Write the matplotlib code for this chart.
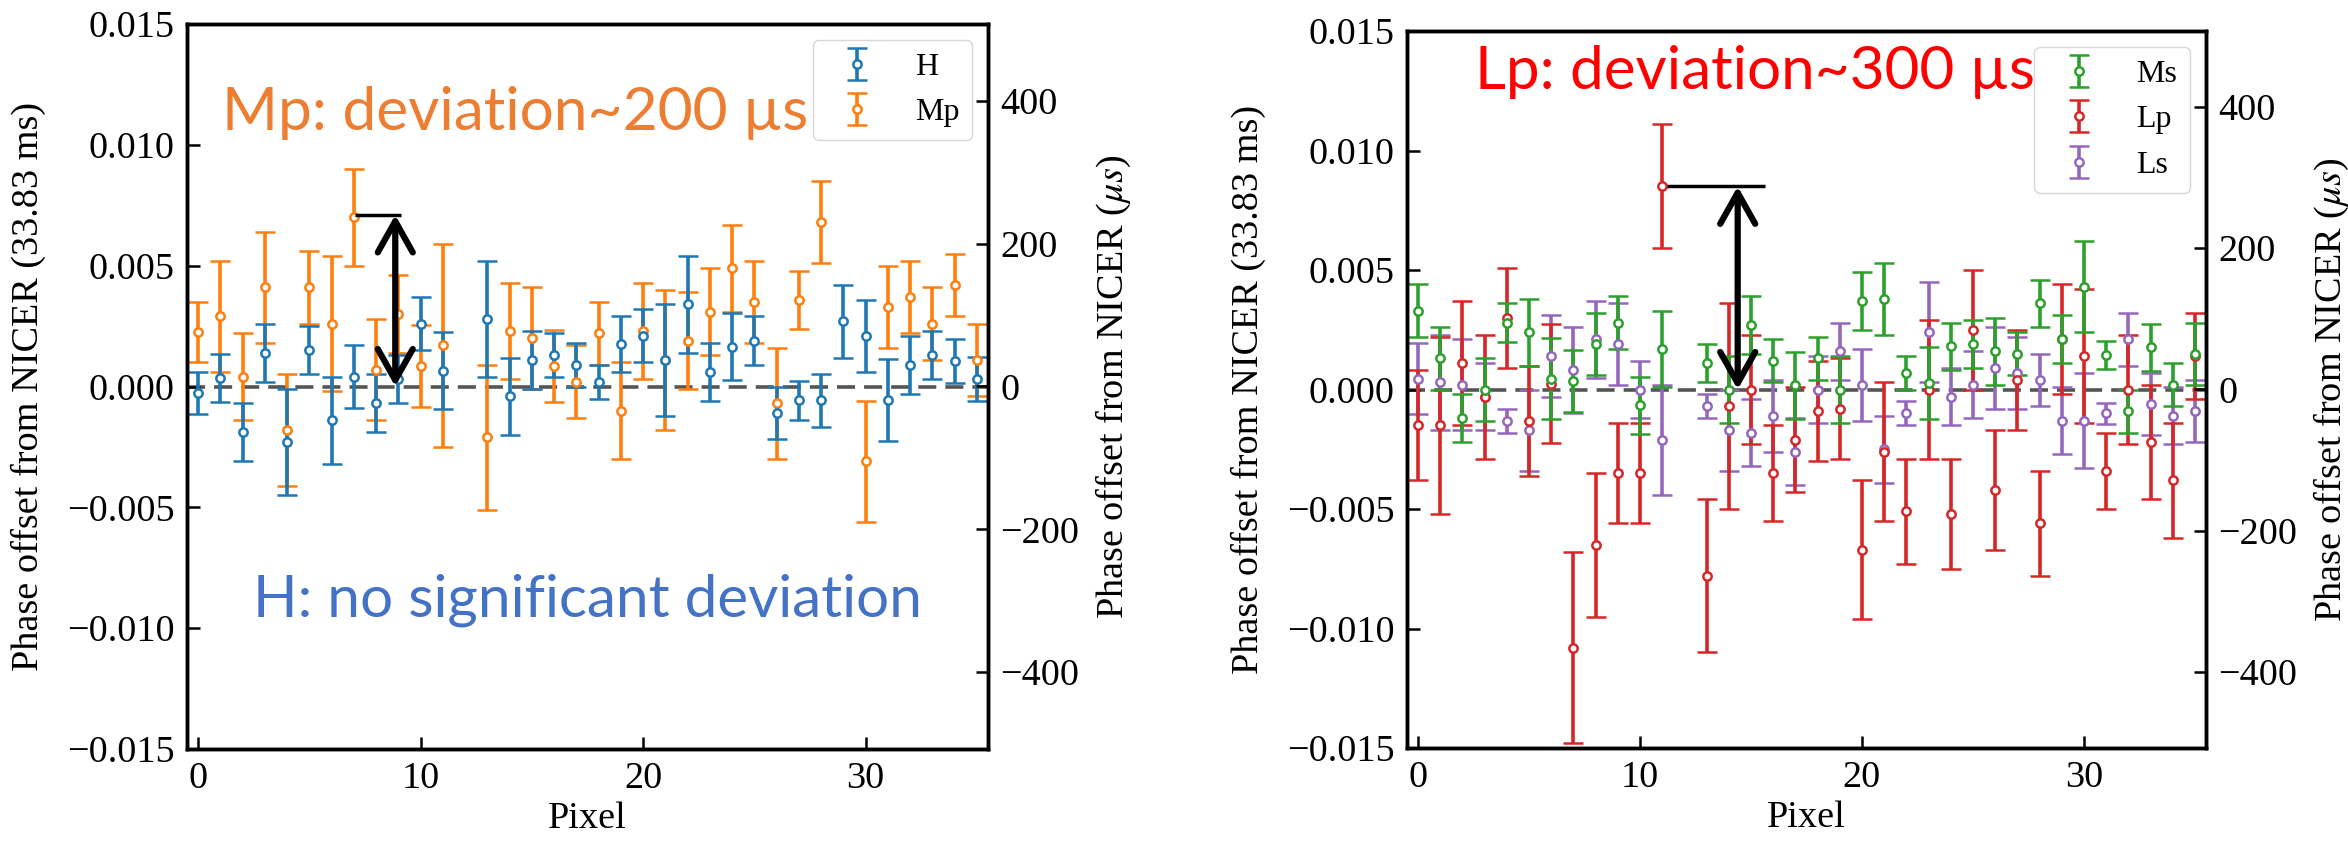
import numpy as np
import matplotlib
matplotlib.use("Agg")
import matplotlib.pyplot as plt
from matplotlib.patches import FancyArrowPatch

plt.rcParams['font.family'] = ['Liberation Serif', 'DejaVu Serif']
plt.rcParams['mathtext.fontset'] = 'stix'

nan = np.nan
pixels = np.arange(36)
period_us = 33830.0

# Left panel
H_val = [-0.00027, 0.00036, -0.0019, 0.0014, -0.0023, 0.0015, -0.0014, 0.0004, -0.0007, 0.0003,
         0.0026, 0.00065, nan, 0.0028, -0.0004, 0.0011, 0.0013, 0.0009, 0.0002, 0.00175,
         0.0021, 0.0011, 0.0034, 0.0006, 0.00165, 0.0019, -0.0011, -0.00057, -0.00057, 0.0027,
         0.0021, -0.00057, 0.00087, 0.0013, 0.00106, 0.00032]
H_err = [0.00087, 0.0010, 0.0012, 0.0012, 0.0022, 0.0010, 0.0018, 0.0013, 0.0012, 0.0010,
         0.0011, 0.0016, nan, 0.0024, 0.0016, 0.0012, 0.0009, 0.0009, 0.0007, 0.00116,
         0.0011, 0.0023, 0.0020, 0.0012, 0.0014, 0.0010, 0.00106, 0.0008, 0.0011, 0.0015,
         0.0015, 0.0017, 0.0012, 0.0010, 0.0009, 0.0009]
Mp_val = [0.00225, 0.0029, 0.0004, 0.0041, -0.0018, 0.0041, 0.0026, 0.0070, 0.0007, 0.0030,
          0.00084, 0.0017, nan, -0.0021, 0.0023, 0.0020, 0.00084, 0.0002, 0.0022, -0.0010,
          0.0023, 0.0011, 0.0019, 0.0031, 0.0049, 0.0035, -0.0007, 0.0036, 0.0068, nan,
          -0.0031, 0.0033, 0.0037, 0.0026, 0.0042, 0.0011]
Mp_err = [0.00125, 0.0023, 0.0018, 0.0023, 0.0023, 0.0015, 0.0028, 0.0020, 0.0021, 0.0016,
          0.0017, 0.0042, nan, 0.0030, 0.0020, 0.0021, 0.0015, 0.0015, 0.0013, 0.0020,
          0.0020, 0.0029, 0.0020, 0.0018, 0.0018, 0.0017, 0.0023, 0.0012, 0.0017, nan,
          0.0025, 0.0017, 0.0015, 0.0015, 0.0013, 0.0015]

# Right panel
Ms_val = [0.0033, 0.0013, -0.0012, 0.0, 0.0028, 0.0024, 0.00046, 0.00036, 0.0019, 0.0028,
          -0.00066, 0.0017, nan, 0.0011, 0.0, 0.0027, 0.0012, 0.00017, 0.0013, 0.0,
          0.0037, 0.0038, 0.0007, 0.00026, 0.0018, 0.0019, 0.0016, 0.0015, 0.0036, 0.0021,
          0.0043, 0.00144, -0.0009, 0.00176, 0.0002, 0.0015]
Ms_err = [0.0011, 0.0013, 0.0010, 0.0013, 0.0008, 0.0014, 0.0017, 0.0013, 0.0013, 0.0011,
          0.0012, 0.0016, nan, 0.0008, 0.0014, 0.0012, 0.0009, 0.0014, 0.0009, 0.0014,
          0.0012, 0.0015, 0.0007, 0.0015, 0.0010, 0.0010, 0.0014, 0.0009, 0.0010, 0.0010,
          0.0019, 0.0006, 0.0009, 0.0010, 0.0009, 0.0013]
Lp_val = [-0.0015, -0.0015, 0.0011, -0.0003, 0.0030, -0.0013, 0.00025, -0.0108, -0.0065, -0.0035,
          -0.0035, 0.0085, nan, -0.0078, -0.0007, 0.0, -0.0035, -0.0021, -0.0009, -0.0008,
          -0.0067, -0.0026, -0.0051, 0.0, -0.0052, 0.0025, -0.0042, 0.0004, -0.0056, 0.0021,
          0.0014, -0.0034, 0.0, -0.0022, -0.0038, 0.0014]
Lp_err = [0.0023, 0.0037, 0.0026, 0.0026, 0.0021, 0.0023, 0.0025, 0.0040, 0.0030, 0.0021,
          0.0021, 0.0026, nan, 0.0032, 0.0043, 0.0023, 0.0020, 0.0022, 0.0021, 0.0021,
          0.0029, 0.0029, 0.0022, 0.0029, 0.0023, 0.0025, 0.0025, 0.0021, 0.0022, 0.0023,
          0.0028, 0.0016, 0.0023, 0.0024, 0.0024, 0.0018]
Ls_val = [0.00046, 0.0003, 0.0002, -0.0003, -0.0013, -0.0017, 0.0014, 0.0008, 0.0021, 0.0019,
          0.0, -0.0021, nan, -0.0007, -0.0017, -0.0018, -0.0011, -0.0026, 0.0, 0.0016,
          0.0002, -0.0025, -0.0010, 0.0024, -0.0003, 0.0002, 0.0009, 0.0007, 0.0004, -0.0013,
          -0.0013, -0.0010, 0.0021, -0.0006, -0.0011, -0.0009]
Ls_err = [0.0015, 0.0020, 0.0019, 0.0014, 0.0005, 0.0017, 0.0017, 0.0018, 0.0016, 0.0017,
          0.0012, 0.0023, nan, 0.0005, 0.0017, 0.0014, 0.0015, 0.0014, 0.0014, 0.0012,
          0.0015, 0.0014, 0.0005, 0.0021, 0.0012, 0.0014, 0.0017, 0.0015, 0.0011, 0.0014,
          0.0020, 0.00045, 0.0011, 0.0013, 0.0012, 0.0013]

yticks_left = [-0.015, -0.010, -0.005, 0.000, 0.005, 0.010, 0.015]
yticks_right = [-400, -200, 0, 200, 400]
xticks = [0, 10, 20, 30]

FS = 27.5
LEG_FS = 23
eb_kw = dict(fmt='o', mfc='white', ms=6, mew=1.8, capsize=7.5, elinewidth=2.6, capthick=2.6)

fig = plt.figure(figsize=(23.48, 8.42), dpi=100)
axL = fig.add_axes([187 / 2348, 93 / 842, 801 / 2348, 725 / 842])
axR = fig.add_axes([1407 / 2348, 94 / 842, 799 / 2348, 717 / 842])


def setup(ax):
    ax.axhline(0, color='#555555', ls='--', lw=2.6, dashes=(5, 2.5), zorder=1)
    ax.set_xlim(-0.5, 35.5)
    ax.set_ylim(-0.015, 0.015)
    ax.set_xticks(xticks)
    ax.set_yticks(yticks_left)
    ax.set_yticklabels([f"{v:.3f}".replace('-', '\u2212') for v in yticks_left])
    ax.tick_params(direction='in', length=9, width=1.8, labelsize=FS, pad=9)
    for s in ax.spines.values():
        s.set_linewidth(2.5)
    ax.set_xlabel('Pixel', fontsize=FS, labelpad=4)
    ax.set_ylabel('Phase offset from NICER (33.83 ms)', fontsize=FS, labelpad=15)
    ax2 = ax.twinx()
    ax2.set_ylim(-0.015 * period_us, 0.015 * period_us)
    ax2.set_yticks(yticks_right)
    ax2.set_yticklabels([str(v).replace('-', '\u2212') for v in yticks_right])
    ax2.tick_params(direction='in', length=9, width=1.8, labelsize=FS, pad=9)
    for s in ax2.spines.values():
        s.set_linewidth(2.5)
    ax2.set_ylabel('Phase offset from NICER ($\\mu s$)', fontsize=FS, labelpad=10)
    return ax2


axL2 = setup(axL)
axR2 = setup(axR)

# Left panel series
hMp = axL.errorbar(pixels, Mp_val, yerr=Mp_err, color='#ff7f0e', mec='#ff7f0e', label='Mp', **eb_kw)
hH = axL.errorbar(pixels, H_val, yerr=H_err, color='#1f77b4', mec='#1f77b4', label='H', **eb_kw)
axL2.legend([hH, hMp], ['H', 'Mp'], loc='upper right', fontsize=LEG_FS,
            framealpha=0.8, fancybox=True)

# Right panel series
hLs = axR.errorbar(pixels, Ls_val, yerr=Ls_err, color='#9467bd', mec='#9467bd', label='Ls', **eb_kw)
hLp = axR.errorbar(pixels, Lp_val, yerr=Lp_err, color='#d62728', mec='#d62728', label='Lp', **eb_kw)
hMs = axR.errorbar(pixels, Ms_val, yerr=Ms_err, color='#2ca02c', mec='#2ca02c', label='Ms', **eb_kw)
axR2.legend([hMs, hLp, hLs], ['Ms', 'Lp', 'Ls'], loc='upper right', fontsize=LEG_FS,
            framealpha=0.8, fancybox=True)


def deviation_arrow(ax, x_pt, y_top, x_end, x_arrow):
    ax.plot([x_pt, x_end], [y_top, y_top], color='k', lw=2.5, zorder=6, solid_capstyle='butt')
    arr = FancyArrowPatch((x_arrow, y_top), (x_arrow, 0.0),
                          arrowstyle='<->,head_length=0.8,head_width=0.45',
                          mutation_scale=28, lw=4.5, color='k', shrinkA=0, shrinkB=0, zorder=6)
    ax.add_patch(arr)


deviation_arrow(axL, 7.05, 0.0071, 9.12, 8.86)
deviation_arrow(axR, 11.2, 0.0085, 15.65, 14.4)

fig.canvas.draw()


def fit_text(ax, x0, x1, y, s, color):
    t = ax.text(x0, y, s, color=color, family=['Lato', 'DejaVu Sans'], fontsize=40,
                ha='left', va='center', zorder=7)
    fig.canvas.draw()
    bb = t.get_window_extent()
    p0 = ax.transData.transform((x0, y))[0]
    p1 = ax.transData.transform((x1, y))[0]
    t.set_fontsize(40 * (p1 - p0) / bb.width)
    return t


fit_text(axL, 1.07, 27.4, 0.01133, 'Mp: deviation~200 \u00b5s', '#ED7D31')
fit_text(axL, 2.45, 32.5, -0.00884, 'H: no significant deviation', '#4472C4')
fit_text(axR, 2.58, 27.8, 0.0133, 'Lp: deviation~300 \u00b5s', '#FF0000')

fig.savefig('out.png', dpi=100)
